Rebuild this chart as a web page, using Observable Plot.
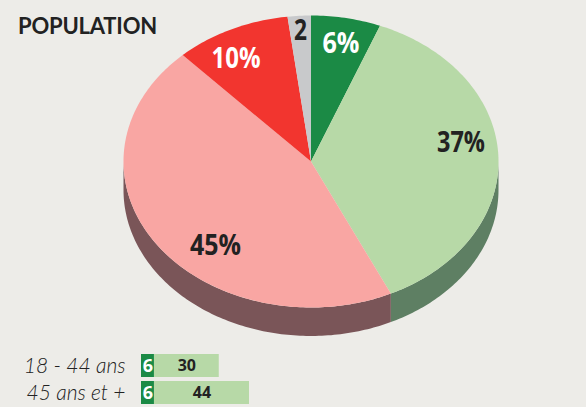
<!DOCTYPE html>
<html><head><meta charset="utf-8">
<script src="https://cdn.jsdelivr.net/npm/d3@7"></script>
<script src="https://cdn.jsdelivr.net/npm/@observablehq/plot@0.6"></script>
<style>
html,body{margin:0;padding:0;background:#edece8;width:586px;height:407px;overflow:hidden}
#wrap{position:relative;width:586px;height:407px}
#wrap svg{display:block;background:transparent;position:absolute;left:0}
#title{position:absolute;left:18px;top:12px;font:700 22px "Lato",sans-serif;color:#222;letter-spacing:-.2px}
</style></head><body>
<div id="wrap"><div id="title">POPULATION</div></div>
<script>
const segments = ["vert foncé","vert clair","rose","rouge","gris"];
const shares = [6,37,45,10,2];
const sliceLabels = ["6%","37%","45%","10%","2"];
const topColors = ["#1b8a45","#b7d9a7","#f9a6a3","#f2352f","#c8c9cb"];
const sideColors = ["#14562f","#5e7f63","#7a5558","#7d2320","#77787a"];
const labelColors = ["#fff","#222","#222","#fff","#222"];
const ageGroups = ["18 - 44 ans","45 ans et +"];
const darkGreen = [6,6];
const lightGreen = [30,44];

// layout (scale units of the unit pie)
const labelX = [0.16,0.80,-0.51,-0.40,-0.056];
const labelY = [0.81,0.13,-0.575,0.705,0.897];
const labelWidths = [37,48,51,49,13];
const depth = 0.195;

const arcs = d3.pie().sort(null)(shares);
const tops = [], sides = [];
arcs.forEach((a,i)=>{
  const n = Math.max(8,Math.ceil((a.endAngle-a.startAngle)*60));
  const pts = d3.range(n+1).map(k=>a.startAngle+(a.endAngle-a.startAngle)*k/n);
  tops.push({s:i,x:0,y:0});
  pts.forEach(t=>tops.push({s:i,x:Math.sin(t),y:Math.cos(t)}));
  const lo = Math.max(a.startAngle,Math.PI/2), hi = Math.min(a.endAngle,Math.PI*1.5);
  if(hi>lo){
    const m = Math.ceil((hi-lo)*60);
    const sp = d3.range(m+1).map(k=>lo+(hi-lo)*k/m);
    sp.forEach(t=>sides.push({s:i,x:Math.sin(t),y:Math.cos(t)}));
    sp.slice().reverse().forEach(t=>sides.push({s:i,x:Math.sin(t),y:Math.cos(t)-depth}));
  }
});
const labels = shares.map((v,i)=>({t:sliceLabels[i],x:labelX[i],y:labelY[i],c:labelColors[i]}));

const pie = Plot.plot({
  width:586,height:345,margin:0,
  style:{background:"transparent"},
  x:{domain:[-1,1],range:[123,498],axis:null},
  y:{domain:[-1,1],range:[307,15],axis:null},
  marks:[
    Plot.line(sides,{x:"x",y:"y",z:"s",fill:d=>sideColors[d.s],stroke:null,curve:"linear"}),
    Plot.line(tops,{x:"x",y:"y",z:"s",fill:d=>topColors[d.s],stroke:null,curve:"linear"}),
    Plot.text(labels,{x:"x",y:"y",text:"t",fill:"c",fontSize:29,fontWeight:700,fontFamily:"'Open Sans',sans-serif",className:"slice-label"})
  ]
});
pie.style.top="0";
document.getElementById("wrap").appendChild(pie);
pie.querySelectorAll(".slice-label text").forEach(el=>{
  const i = sliceLabels.indexOf(el.textContent);
  el.setAttribute("textLength",labelWidths[i]);
  el.setAttribute("lengthAdjust","spacingAndGlyphs");
});

const rows = [];
ageGroups.forEach((g,i)=>{
  rows.push({g,k:"a",v:darkGreen[i],f:"#1b8a45",tc:"#fff",fs:18});
  rows.push({g,k:"b",v:lightGreen[i],f:"#b7d9a7",tc:"#222",fs:16});
});
const bars = Plot.plot({
  width:586,height:67,margin:0,
  style:{background:"transparent"},
  x:{domain:[0,50],range:[141,249],axis:null},
  y:{domain:ageGroups,range:[14,64],paddingInner:0.148,paddingOuter:0,round:false,axis:null},
  marks:[
    Plot.barX(rows,Plot.stackX({x:"v",y:"g",z:"k",fill:"f",order:null})),
    Plot.text(rows,Plot.stackX({x:"v",y:"g",z:"k",order:null,text:d=>String(d.v),fill:"tc",fontSize:"fs",fontWeight:700,fontFamily:"'Open Sans',sans-serif"})),
    Plot.text(ageGroups,{y:d=>d,x:()=>0,text:d=>d,textAnchor:"end",dx:-16,fontSize:21,fontStyle:"italic",fontWeight:300,fill:"#222",fontFamily:"Lato,sans-serif"})
  ]
});
bars.style.top="340px";
document.getElementById("wrap").appendChild(bars);
</script></body></html>
